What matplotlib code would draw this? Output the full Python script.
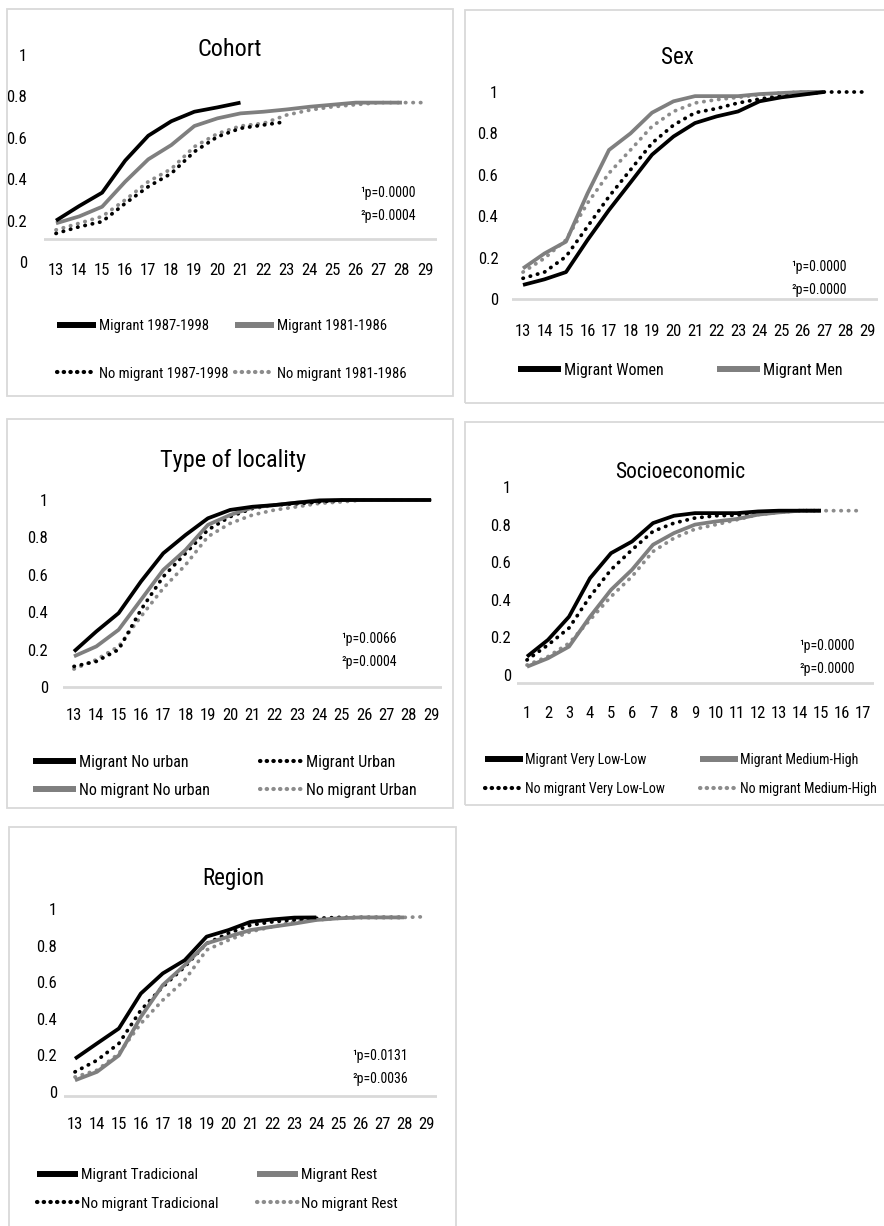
import matplotlib
matplotlib.use("Agg")
import matplotlib.pyplot as plt
from matplotlib.patches import Rectangle
from matplotlib.lines import Line2D
from matplotlib.legend import Legend

plt.rcParams['font.family'] = ['Roboto Condensed', 'Asap Condensed', 'Carlito', 'DejaVu Sans']

W, H = 884, 1226

# ---- data (cumulative proportions) ----
coh_m87_x = list(range(13, 22))
coh_m87 = [0.20, 0.27, 0.335, 0.49, 0.61, 0.68, 0.726, 0.747, 0.77]
coh_m81_x = list(range(13, 29))
coh_m81 = [0.187, 0.22, 0.267, 0.388, 0.496, 0.565, 0.657, 0.694, 0.718, 0.726, 0.737, 0.75, 0.76, 0.77, 0.77, 0.77]
coh_nm87_x = list(range(13, 24))
coh_nm87 = [0.138, 0.17, 0.195, 0.283, 0.364, 0.428, 0.533, 0.605, 0.646, 0.662, 0.678]
coh_nm81_x = list(range(13, 30))
coh_nm81 = [0.155, 0.187, 0.22, 0.30, 0.388, 0.45, 0.557, 0.62, 0.657, 0.67, 0.71, 0.734, 0.75, 0.76, 0.77, 0.77, 0.77]

sex_w_x = list(range(13, 28))
sex_w = [0.068, 0.095, 0.13, 0.285, 0.43, 0.563, 0.697, 0.785, 0.85, 0.882, 0.906, 0.955, 0.974, 0.987, 1.0]
sex_m_x = list(range(13, 28))
sex_m = [0.148, 0.22, 0.277, 0.51, 0.72, 0.80, 0.90, 0.955, 0.98, 0.98, 0.98, 0.99, 0.995, 1.0, 1.0]
sex_nw_x = list(range(13, 30))
sex_nw = [0.10, 0.13, 0.205, 0.35, 0.495, 0.624, 0.753, 0.84, 0.90, 0.92, 0.947, 0.966, 0.98, 0.99, 1.0, 1.0, 1.0]
sex_nm_x = list(range(13, 28))
sex_nm = [0.13, 0.197, 0.285, 0.463, 0.608, 0.72, 0.834, 0.906, 0.947, 0.963, 0.974, 0.987, 0.995, 1.0, 1.0]

loc_x = list(range(13, 30))
loc_m_nourb = [0.19, 0.297, 0.395, 0.564, 0.715, 0.813, 0.902, 0.947, 0.964, 0.973, 0.986, 0.996, 1, 1, 1, 1, 1]
loc_nm_nourb = [0.164, 0.217, 0.306, 0.466, 0.626, 0.733, 0.867, 0.92, 0.96, 0.973, 0.986, 1, 1, 1, 1, 1, 1]
loc_m_urb = [0.11, 0.137, 0.2, 0.413, 0.59, 0.715, 0.84, 0.911, 0.955, 0.973, 0.98, 0.99, 1, 1, 1, 1, 1]
loc_nm_urb = [0.096, 0.146, 0.217, 0.377, 0.528, 0.653, 0.804, 0.875, 0.92, 0.947, 0.964, 0.982, 0.99, 1, 1, 1, 1]

ses_x = list(range(1, 16))
ses_m_low = [0.098, 0.187, 0.31, 0.515, 0.648, 0.71, 0.808, 0.847, 0.861, 0.861, 0.861, 0.87, 0.874, 0.874, 0.874]
ses_m_high = [0.044, 0.089, 0.151, 0.31, 0.453, 0.56, 0.693, 0.755, 0.80, 0.817, 0.83, 0.853, 0.865, 0.874, 0.874]
ses_nm_low = [0.08, 0.16, 0.25, 0.417, 0.56, 0.666, 0.764, 0.808, 0.835, 0.847, 0.85, 0.861, 0.868, 0.874, 0.874]
ses_nm_high_x = list(range(1, 18))
ses_nm_high = [0.053, 0.098, 0.169, 0.293, 0.417, 0.524, 0.657, 0.728, 0.776, 0.80, 0.826, 0.853, 0.865, 0.874, 0.874, 0.874, 0.874]

reg_mt_x = list(range(13, 25))
reg_m_trad = [0.182, 0.265, 0.347, 0.538, 0.648, 0.72, 0.849, 0.885, 0.93, 0.943, 0.953, 0.954]
reg_mr_x = list(range(13, 29))
reg_m_rest = [0.064, 0.11, 0.2, 0.41, 0.584, 0.693, 0.812, 0.849, 0.885, 0.903, 0.92, 0.94, 0.949, 0.954, 0.954, 0.954]
reg_nt_x = list(range(13, 29))
reg_nm_trad = [0.11, 0.173, 0.265, 0.447, 0.575, 0.684, 0.812, 0.867, 0.912, 0.93, 0.94, 0.949, 0.954, 0.954, 0.954, 0.954]
reg_nr_x = list(range(13, 30))
reg_nm_rest = [0.082, 0.119, 0.21, 0.374, 0.502, 0.611, 0.776, 0.83, 0.876, 0.903, 0.93, 0.94, 0.949, 0.954, 0.954, 0.954, 0.958]

y_ticks = [0, 0.2, 0.4, 0.6, 0.8, 1]
y_labels = ["0", "0.2", "0.4", "0.6", "0.8", "1"]

BLACK = "#000000"
GRAY = "#7f7f7f"
LGRAY = "#8c8c8c"
BOX = "#d9d9d9"

fig = plt.figure(figsize=(W / 100, H / 100), dpi=100)


def box(x0, y0, x1, y1):
    fig.patches.append(Rectangle((x0 / W, 1 - y1 / H), (x1 - x0) / W, (y1 - y0) / H,
                                 transform=fig.transFigure, fill=False,
                                 edgecolor=BOX, lw=1.3))


def make_ax(first_px, last_px, xticks, zero_px, one_px, base, xpad, ypad):
    # place the axes so that value 0 / 1 and the first / last tick land where they do in the picture
    sp = (last_px - first_px) / (len(xticks) - 1)
    left = first_px - sp / 2
    right = last_px + sp / 2
    s = zero_px - one_px
    lo, hi = -0.06, 1.03
    bottom = zero_px - lo * s
    top = zero_px - hi * s
    ax = fig.add_axes([left / W, 1 - bottom / H, (right - left) / W, (bottom - top) / H])
    ax.set_xlim(xticks[0] - 0.5, xticks[-1] + 0.5)
    ax.set_ylim(lo, hi)
    ax.set_xticks(xticks)
    ax.set_xticklabels([str(t) for t in xticks])
    ax.set_yticks(y_ticks)
    ax.set_yticklabels(y_labels)
    for sp_ in ax.spines.values():
        sp_.set_visible(False)
    ax.tick_params(length=0, labelsize=12)
    ax.tick_params(axis='x', pad=xpad)
    ax.tick_params(axis='y', pad=ypad)
    ax.axhline(base, color=BOX, lw=2, zorder=0)
    ax.patch.set_alpha(0)
    return ax


def solid(ax, x, y, c):
    return ax.plot(x, y, color=c, lw=2.7, solid_capstyle='butt', zorder=3)[0]


def dotted(ax, x, y, c):
    return ax.plot(x, y, color=c, lw=2.7, linestyle=(0, (0.1, 1.9)),
                   dash_capstyle='round', zorder=2)[0]


def leg(ax, handles, labels, x, y, labsp, fs):
    # one legend per column so each column starts where it does in the picture
    lg = Legend(ax, handles, labels, ncol=1, loc='upper left',
                bbox_to_anchor=(x / W, 1 - y / H), bbox_transform=fig.transFigure,
                frameon=False, fontsize=fs, borderpad=0, borderaxespad=0,
                handlelength=2.7, handletextpad=0.2, labelspacing=labsp)
    ax.add_artist(lg)


def lh(c, style):
    if style == '-':
        return Line2D([], [], color=c, lw=4.3, solid_capstyle='butt')
    return Line2D([], [], color=c, lw=3, linestyle=(0, (0.1, 1.5)), dash_capstyle='round')


def ptext(x, y, a, b):
    fig.text(x / W, 1 - y / H, "\u00b9p=" + a, ha='right', va='center', fontsize=10)
    fig.text(x / W, 1 - (y + 23) / H, "\u00b2p=" + b, ha='right', va='center', fontsize=10)


# boxes
box(7, 9, 453, 396)
box(465, 10, 886, 403)
box(7, 419, 453, 808)
box(465, 422, 886, 805)
box(9, 827, 456, 1232)

ages = list(range(13, 30))

# Cohort
ax = make_ax(56, 425, ages, 262, 55, 0.11, -8.5, 12.5)
dotted(ax, coh_nm81_x, coh_nm81, LGRAY)
dotted(ax, coh_nm87_x, coh_nm87, BLACK)
solid(ax, coh_m81_x, coh_m81, GRAY)
solid(ax, coh_m87_x, coh_m87, BLACK)
fig.text(230 / W, 1 - 50 / H, "Cohort", ha='center', va='center', fontsize=17.5)
ptext(416, 193, "0.0000", "0.0004")
leg(ax, [lh(BLACK, '-'), lh(BLACK, ':')], ["Migrant 1987-1998", "No migrant 1987-1998"], 57, 319, 2.3, 10.5)
leg(ax, [lh(GRAY, '-'), lh(LGRAY, ':')], ["Migrant 1981-1986", "No migrant 1981-1986"], 235, 319, 2.3, 10.5)

# Sex
ax = make_ax(523, 867, ages, 299, 92, 0.0, 8.7, 10)
dotted(ax, sex_nm_x, sex_nm, LGRAY)
dotted(ax, sex_nw_x, sex_nw, BLACK)
solid(ax, sex_m_x, sex_m, GRAY)
solid(ax, sex_w_x, sex_w, BLACK)
fig.text(677 / W, 1 - 57 / H, "Sex", ha='center', va='center', fontsize=16.5)
ptext(847, 267, "0.0000", "0.0000")
leg(ax, [lh(BLACK, '-')], ["Migrant Women"], 518, 363, 0.5, 11.5)
leg(ax, [lh(GRAY, '-')], ["Migrant Men"], 717, 363, 0.5, 11.5)

# Type of locality
ax = make_ax(74, 431, ages, 687, 500, 0.0, 7.4, 10.6)
dotted(ax, loc_x, loc_nm_urb, LGRAY)
dotted(ax, loc_x, loc_m_urb, BLACK)
solid(ax, loc_x, loc_nm_nourb, GRAY)
solid(ax, loc_x, loc_m_nourb, BLACK)
fig.text(233 / W, 1 - 460 / H, "Type of locality", ha='center', va='center', fontsize=17.5)
ptext(397, 639, "0.0066", "0.0004")
leg(ax, [lh(BLACK, '-'), lh(GRAY, '-')], ["Migrant No urban", "No migrant No urban"], 33, 755, 0.8, 11.5)
leg(ax, [lh(BLACK, ':'), lh(LGRAY, ':')], ["Migrant Urban", "No migrant Urban"], 260, 755, 0.8, 11.5)

# Socioeconomic
sx = list(range(1, 18))
ax = make_ax(527, 863, sx, 675, 487, -0.04, 14.5, 4)
dotted(ax, ses_nm_high_x, ses_nm_high, LGRAY)
dotted(ax, ses_x, ses_nm_low, BLACK)
solid(ax, ses_x, ses_m_high, GRAY)
solid(ax, ses_x, ses_m_low, BLACK)
fig.text(680 / W, 1 - 472 / H, "Socioeconomic", ha='center', va='center', fontsize=15.5)
ptext(855, 646, "0.0000", "0.0000")
leg(ax, [lh(BLACK, '-'), lh(BLACK, ':')], ["Migrant Very Low-Low", "No migrant Very Low-Low"], 485, 753, 1.05, 10)
leg(ax, [lh(GRAY, '-'), lh(LGRAY, ':')], ["Migrant Medium-High", "No migrant Medium-High"], 700, 753, 1.05, 10)

# Region
ax = make_ax(75, 426, ages, 1092, 909, -0.02, 10.4, 5)
dotted(ax, reg_nr_x, reg_nm_rest, LGRAY)
dotted(ax, reg_nt_x, reg_nm_trad, BLACK)
solid(ax, reg_mr_x, reg_m_rest, GRAY)
solid(ax, reg_mt_x, reg_m_trad, BLACK)
fig.text(233 / W, 1 - 878 / H, "Region", ha='center', va='center', fontsize=16.5)
ptext(408, 1056, "0.0131", "0.0036")
leg(ax, [lh(BLACK, '-'), lh(BLACK, ':')], ["Migrant Tradicional", "No migrant Tradicional"], 37, 1168, 0.95, 11)
leg(ax, [lh(GRAY, '-'), lh(LGRAY, ':')], ["Migrant Rest", "No migrant Rest"], 257, 1168, 0.95, 11)

fig.savefig("out.png", dpi=100)
